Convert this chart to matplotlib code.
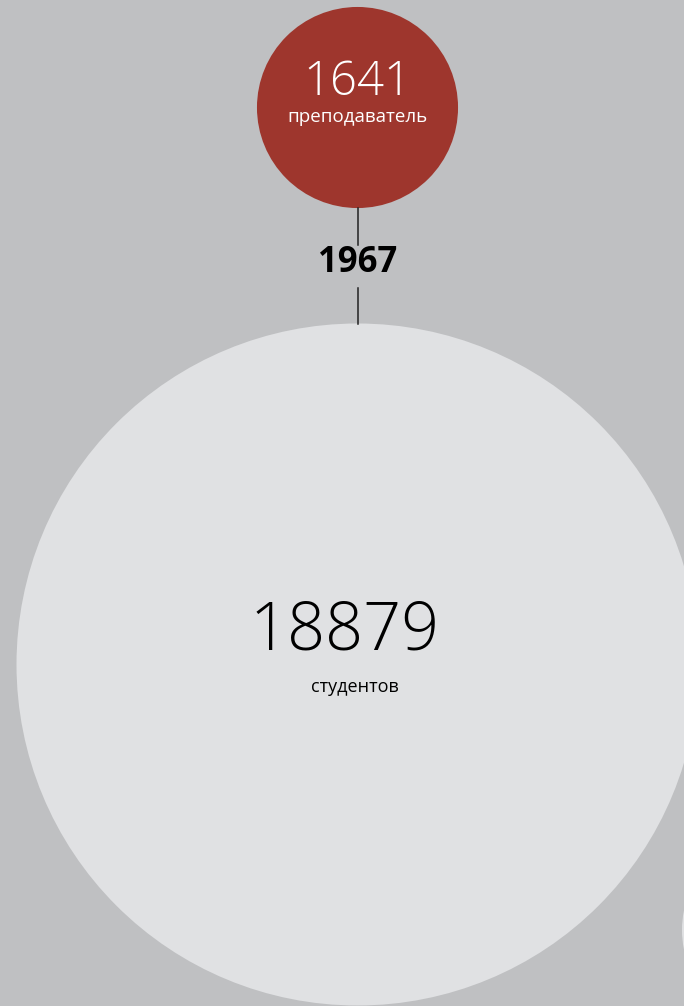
import matplotlib
matplotlib.use("Agg")
import matplotlib.pyplot as plt
from matplotlib.patches import Circle
import numpy as np

# data
values = [1641, 18879]
labels = ["преподаватель", "студентов"]
year = "1967"

BG = "#bfc0c2"
RED = "#9e362d"
LIGHT = "#e0e1e3"

W, H = 684, 1006
fig = plt.figure(figsize=(W / 100, H / 100), dpi=100, facecolor=BG)
ax = fig.add_axes([0, 0, 1, 1])
ax.set_xlim(0, W)
ax.set_ylim(H, 0)
ax.set_aspect("equal")
ax.axis("off")
ax.set_facecolor(BG)

k = 341 / np.sqrt(values[1])  # area-proportional scale
r_small = k * np.sqrt(values[0])
r_big = k * np.sqrt(values[1])

cx = 357.5
cy_small = 107.5
cy_big = 664.5

ax.add_patch(Circle((cx, cy_small), r_small, facecolor=RED, edgecolor="none"))
ax.add_patch(Circle((cx, cy_big), r_big, facecolor=LIGHT, edgecolor="none"))
# partial circle at bottom right edge
ax.add_patch(Circle((781, 930), 99, facecolor=LIGHT, edgecolor="none"))

# connector lines
ax.plot([cx, cx], [cy_small + r_small, 245], color="#222222", lw=1.1)
ax.plot([cx, cx], [288, cy_big - r_big], color="#222222", lw=1.1)

num_font = dict(family=["Open Sans", "DejaVu Sans"], fontweight="light")
lab_font = dict(family=["Open Sans", "DejaVu Sans"])

ax.text(cx, 83, f"{values[0]}", ha="center", va="center", color="white",
        fontsize=34, **num_font)
ax.text(cx, 117, labels[0], ha="center", va="center", color="white",
        fontsize=13.5, **lab_font)

ax.text(cx, 263, year, ha="center", va="center", color="black",
        fontsize=25, fontweight="bold", family=["Open Sans", "DejaVu Sans"])

ax.text(345, 632, f"{values[1]}", ha="center", va="center", color="black",
        fontsize=48, **num_font)
ax.text(355, 687, labels[1], ha="center", va="center", color="black",
        fontsize=13, **lab_font)

fig.savefig("out.png", dpi=100, facecolor=BG)
